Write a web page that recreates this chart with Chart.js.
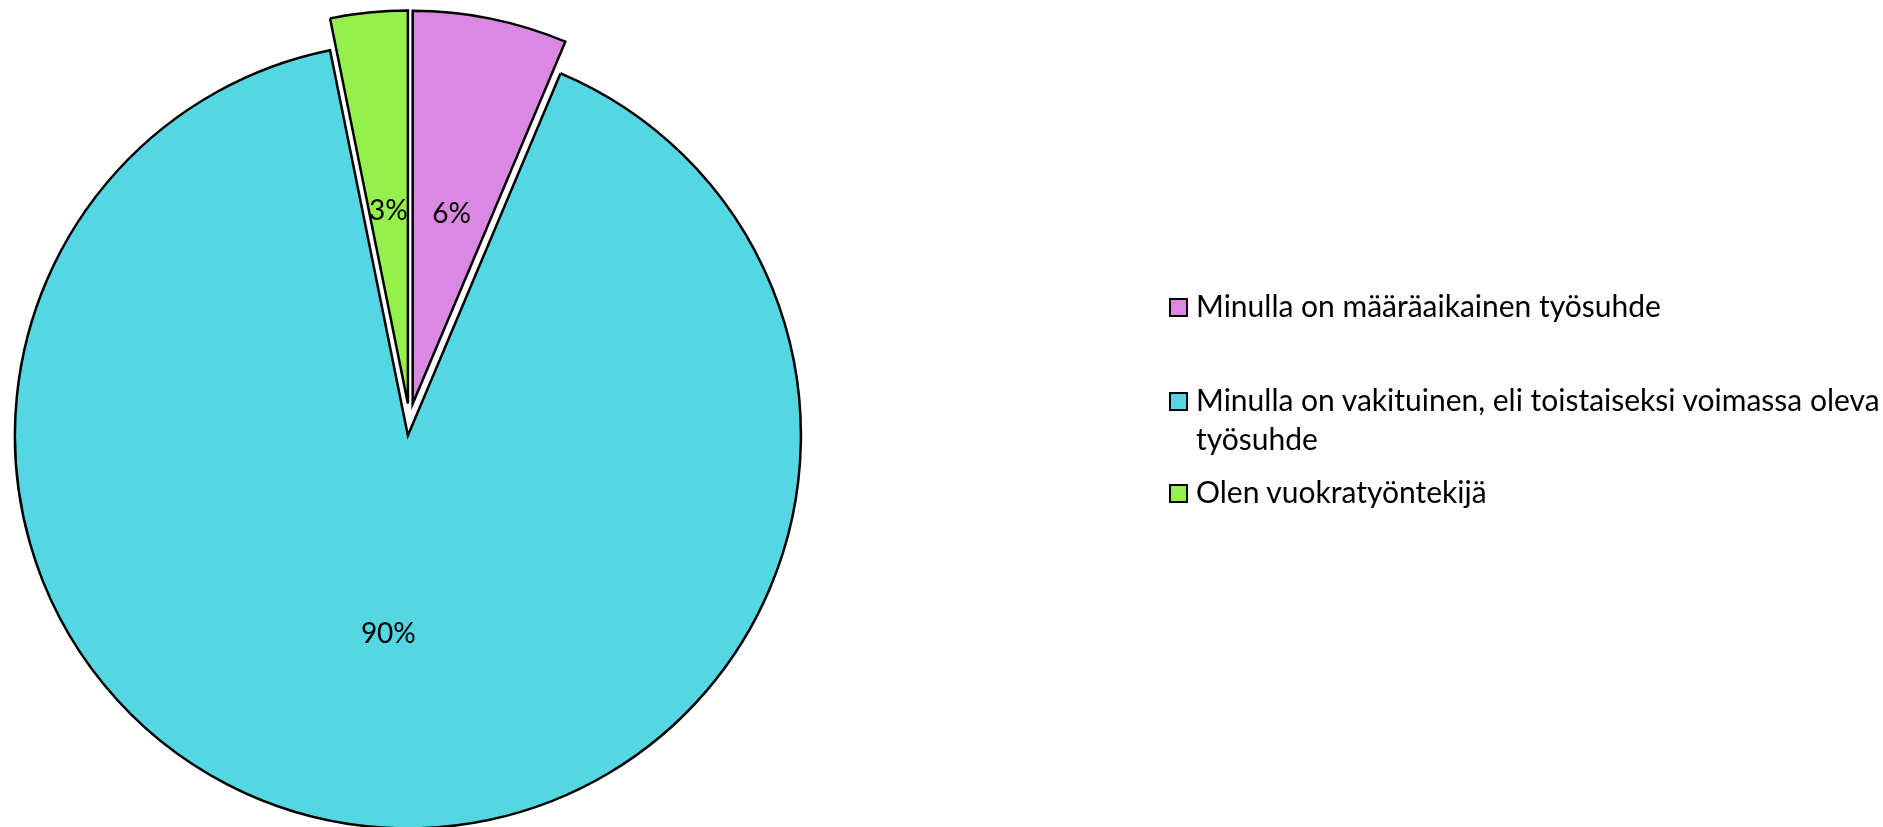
<!DOCTYPE html>
<html>
<head>
<meta charset="utf-8">
<script src="https://cdn.jsdelivr.net/npm/chart.js@4.4.0/dist/chart.umd.min.js"></script>
<style>
    body { margin: 0; background: #fff; }
    #wrap { position: relative; width: 1883px; height: 827px; overflow: hidden; }
    #pieChart { position: absolute; left: 0; top: 0; }
    .legend { position: absolute; left: 1169px; top: 286px; font-family: Lato, sans-serif; font-size: 30px; line-height: 39px; color: #000; }
    .legend .item { position: relative; padding-left: 27px; width: 690px; }
    .legend .box { position: absolute; left: 0; top: 12px; width: 15px; height: 15px; border: 2px solid #000; }
</style>
</head>
<body>
<div id="wrap">
    <canvas id="pieChart" width="1883" height="827"></canvas>
    <div class="legend" id="legend"></div>
</div>
<script>
const categories = [
    'Minulla on määräaikainen työsuhde',
    'Minulla on vakituinen, eli toistaiseksi voimassa oleva työsuhde',
    'Olen vuokratyöntekijä'
];
const responses = [4, 57, 2];
const sliceColors = ['#DA88E2', '#54D6E3', '#96F04B'];

const EXPLODE = 16; // px every slice is pulled out from the centre
const total = responses.reduce((a, b) => a + b, 0);

function midAngle(arc) {
    const p = arc.getProps(['startAngle', 'endAngle'], true);
    return (p.startAngle + p.endAngle) / 2;
}

// chart.js offset also grows the radius, so move the slices ourselves
const explodePie = {
    id: 'explodePie',
    beforeDatasetDraw(chart, args) {
        const ctx = chart.ctx;
        args.meta.data.forEach((arc) => {
            const mid = midAngle(arc);
            ctx.save();
            ctx.translate(Math.cos(mid) * EXPLODE, Math.sin(mid) * EXPLODE);
            arc.draw(ctx, chart.chartArea);
            ctx.restore();
        });
        return false;
    }
};

/* prosenttilaput */
const pctLabels = {
    id: 'pctLabels',
    afterDatasetsDraw(chart) {
        const ctx = chart.ctx;
        const meta = chart.getDatasetMeta(0);
        ctx.save();
        ctx.font = '28px Lato, sans-serif';
        ctx.fillStyle = '#000';
        ctx.textAlign = 'center';
        ctx.textBaseline = 'middle';
        meta.data.forEach((arc, i) => {
            const p = arc.getProps(['x', 'y', 'innerRadius', 'outerRadius'], true);
            const mid = midAngle(arc);
            const r = (p.innerRadius + p.outerRadius) / 2 + EXPLODE;
            const x = p.x + Math.cos(mid) * r;
            const y = p.y + Math.sin(mid) * r + 3;
            ctx.fillText(Math.round(responses[i] / total * 100) + '%', x, y);
        });
        ctx.restore();
    }
};

new Chart(document.getElementById('pieChart'), {
    type: 'pie',
    data: {
        labels: categories,
        datasets: [{
            data: responses,
            backgroundColor: sliceColors,
            borderColor: '#000',
            borderWidth: 2.5,
            borderJoinStyle: 'miter'
        }]
    },
    options: {
        responsive: false,
        animation: false,
        events: [],
        radius: 393,
        layout: {
            padding: { left: 0, right: 1064, top: 12, bottom: 0 }
        },
        plugins: {
            legend: { display: false },
            tooltip: { enabled: false }
        }
    },
    plugins: [explodePie, pctLabels]
});

const legend = document.getElementById('legend');
const gaps = [55, 14, 0];
categories.forEach((name, i) => {
    const item = document.createElement('div');
    item.className = 'item';
    item.style.marginBottom = gaps[i] + 'px';
    const box = document.createElement('span');
    box.className = 'box';
    box.style.background = sliceColors[i];
    item.appendChild(box);
    item.appendChild(document.createTextNode(name));
    legend.appendChild(item);
});
</script>
</body>
</html>
